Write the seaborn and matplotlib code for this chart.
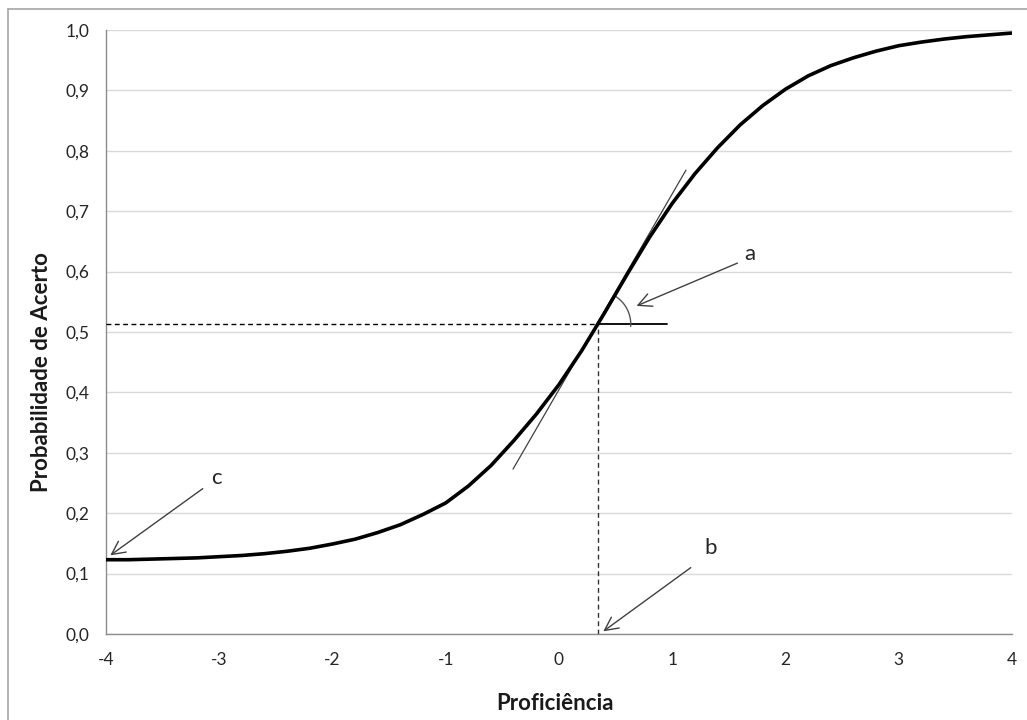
import numpy as np
import pandas as pd
import matplotlib
matplotlib.use("Agg")
import matplotlib.pyplot as plt
import seaborn as sns

# ---- data ----
theta = [-4.0, -3.8, -3.6, -3.4, -3.2, -3.0, -2.8, -2.6, -2.4, -2.2,
         -2.0, -1.8, -1.6, -1.4, -1.2, -1.0, -0.8, -0.6, -0.4, -0.2,
         0.0, 0.2, 0.4, 0.6, 0.8, 1.0, 1.2, 1.4, 1.6, 1.8,
         2.0, 2.2, 2.4, 2.6, 2.8, 3.0, 3.2, 3.4, 3.6, 3.8, 4.0]
prob = [0.123, 0.123, 0.124, 0.125, 0.126, 0.128, 0.130, 0.133, 0.137, 0.142,
        0.149, 0.157, 0.168, 0.181, 0.198, 0.217, 0.245, 0.279, 0.320, 0.364,
        0.413, 0.469, 0.531, 0.595, 0.657, 0.713, 0.762, 0.805, 0.843, 0.875,
        0.902, 0.924, 0.941, 0.954, 0.965, 0.974, 0.980, 0.985, 0.989, 0.992, 0.995]

b_param = 0.342          # location of b
p_at_b = 0.513           # probability at b
tangent_x = [-0.406, 1.121]
tangent_y = [0.273, 0.768]
horiz_end = 0.954
x_ticks = [-4, -3, -2, -1, 0, 1, 2, 3, 4]
y_ticks = [0.0, 0.1, 0.2, 0.3, 0.4, 0.5, 0.6, 0.7, 0.8, 0.9, 1.0]
y_ticklabels = ["0,0", "0,1", "0,2", "0,3", "0,4", "0,5", "0,6", "0,7", "0,8", "0,9", "1,0"]

sns.set_theme(style="white")
plt.rcParams['font.family'] = ['Lato', 'DejaVu Sans']

W, H = 1027, 720
fig = plt.figure(figsize=(W / 100, H / 100), dpi=100)
ax = fig.add_axes([106 / W, 1 - 634 / H, (1012 - 106) / W, (634 - 30) / H])

df = pd.DataFrame({"theta": theta, "prob": prob})
sns.lineplot(data=df, x="theta", y="prob", ax=ax, color="black", lw=2.6,
             solid_capstyle="butt", solid_joinstyle="round", zorder=5)

ax.set_xlim(-4, 4)
ax.set_ylim(0, 1.0)
ax.set_xticks(x_ticks)
ax.set_xticklabels([str(t) for t in x_ticks])
ax.set_xticks(np.arange(-4, 4.001, 0.1), minor=True)
ax.set_yticks(y_ticks)
ax.set_yticklabels(y_ticklabels)
ax.set_xlabel("")
ax.set_ylabel("")

for s in ["top", "right"]:
    ax.spines[s].set_visible(False)
for s in ["left", "bottom"]:
    ax.spines[s].set_color("#8c8c8c")
    ax.spines[s].set_linewidth(1.0)

ax.grid(axis="y", color="#d9d9d9", lw=1.0)
ax.set_axisbelow(True)
ax.tick_params(axis="both", which="both", direction="out", color="#8c8c8c",
               labelcolor="#262626", labelsize=12.5)
ax.tick_params(axis="x", which="major", length=5, width=1, pad=8)
ax.tick_params(axis="x", which="minor", length=5, width=1)
ax.tick_params(axis="y", which="major", length=5, width=1, pad=7)

# dashed guide lines
ax.plot([-4, b_param], [p_at_b, p_at_b], color="black", lw=1.0, ls=(0, (3.5, 2.5)), zorder=4)
ax.plot([b_param, b_param], [0, p_at_b], color="#333333", lw=1.0, ls=(0, (3.5, 2.5)), zorder=4)
# tangent
ax.plot(tangent_x, tangent_y, color="#404040", lw=0.9, zorder=4)
# horizontal reference
ax.plot([b_param, horiz_end], [p_at_b, p_at_b], color="black", lw=1.3, zorder=4)

# angle arc (drawn in pixel space)
fig.canvas.draw()
cx, cy = ax.transData.transform((b_param, p_at_b))
r = 33
t = np.radians(np.linspace(-4, 58, 40))
pts = np.column_stack([cx + r * np.cos(t), cy + r * np.sin(t)])
dpts = ax.transData.inverted().transform(pts)
ax.plot(dpts[:, 0], dpts[:, 1], color="#555555", lw=1.0, zorder=4)

# arrows with labels (a, b, c)
arrow_kw = dict(arrowstyle="->,head_length=0.8,head_width=0.4", color="#404040", lw=1.0)
def pix2data(px, py):
    X, Y = fig.transFigure.inverted().transform((px, H - py))
    return ax.transData.inverted().transform(fig.transFigure.transform((X, Y)))

annots = [("a", (740, 262), (634, 307), (750, 254)),
          ("b", (693, 566), (601, 633), (711, 548)),
          ("c", (205, 487), (108, 557), (216, 478))]
for lab, start, end, lpos in annots:
    s = pix2data(*start)
    e = pix2data(*end)
    ax.annotate("", xy=e, xytext=s, arrowprops=arrow_kw, zorder=6,
                annotation_clip=False)
    lp = pix2data(*lpos)
    ax.text(lp[0], lp[1], lab, fontsize=16, color="#262626",
            ha="center", va="center", zorder=6)

# axis titles
fig.text(555 / W, 1 - 703 / H, "Proficiência", ha="center", va="center",
         fontsize=16, fontweight="bold", color="#1a1a1a")
fig.text(42 / W, 1 - 372 / H, "Probabilidade de Acerto", ha="center", va="center",
         rotation=90, fontsize=16, fontweight="bold", color="#1a1a1a")

# chart area border (left and top visible)
fig.add_artist(plt.Line2D([8 / W, 8 / W], [1 - 9 / H, 0], transform=fig.transFigure,
                          color="#a6a6a6", lw=1.2))
fig.add_artist(plt.Line2D([8 / W, 1], [1 - 9 / H, 1 - 9 / H], transform=fig.transFigure,
                          color="#a6a6a6", lw=1.2))

fig.savefig("out.png", dpi=100)
